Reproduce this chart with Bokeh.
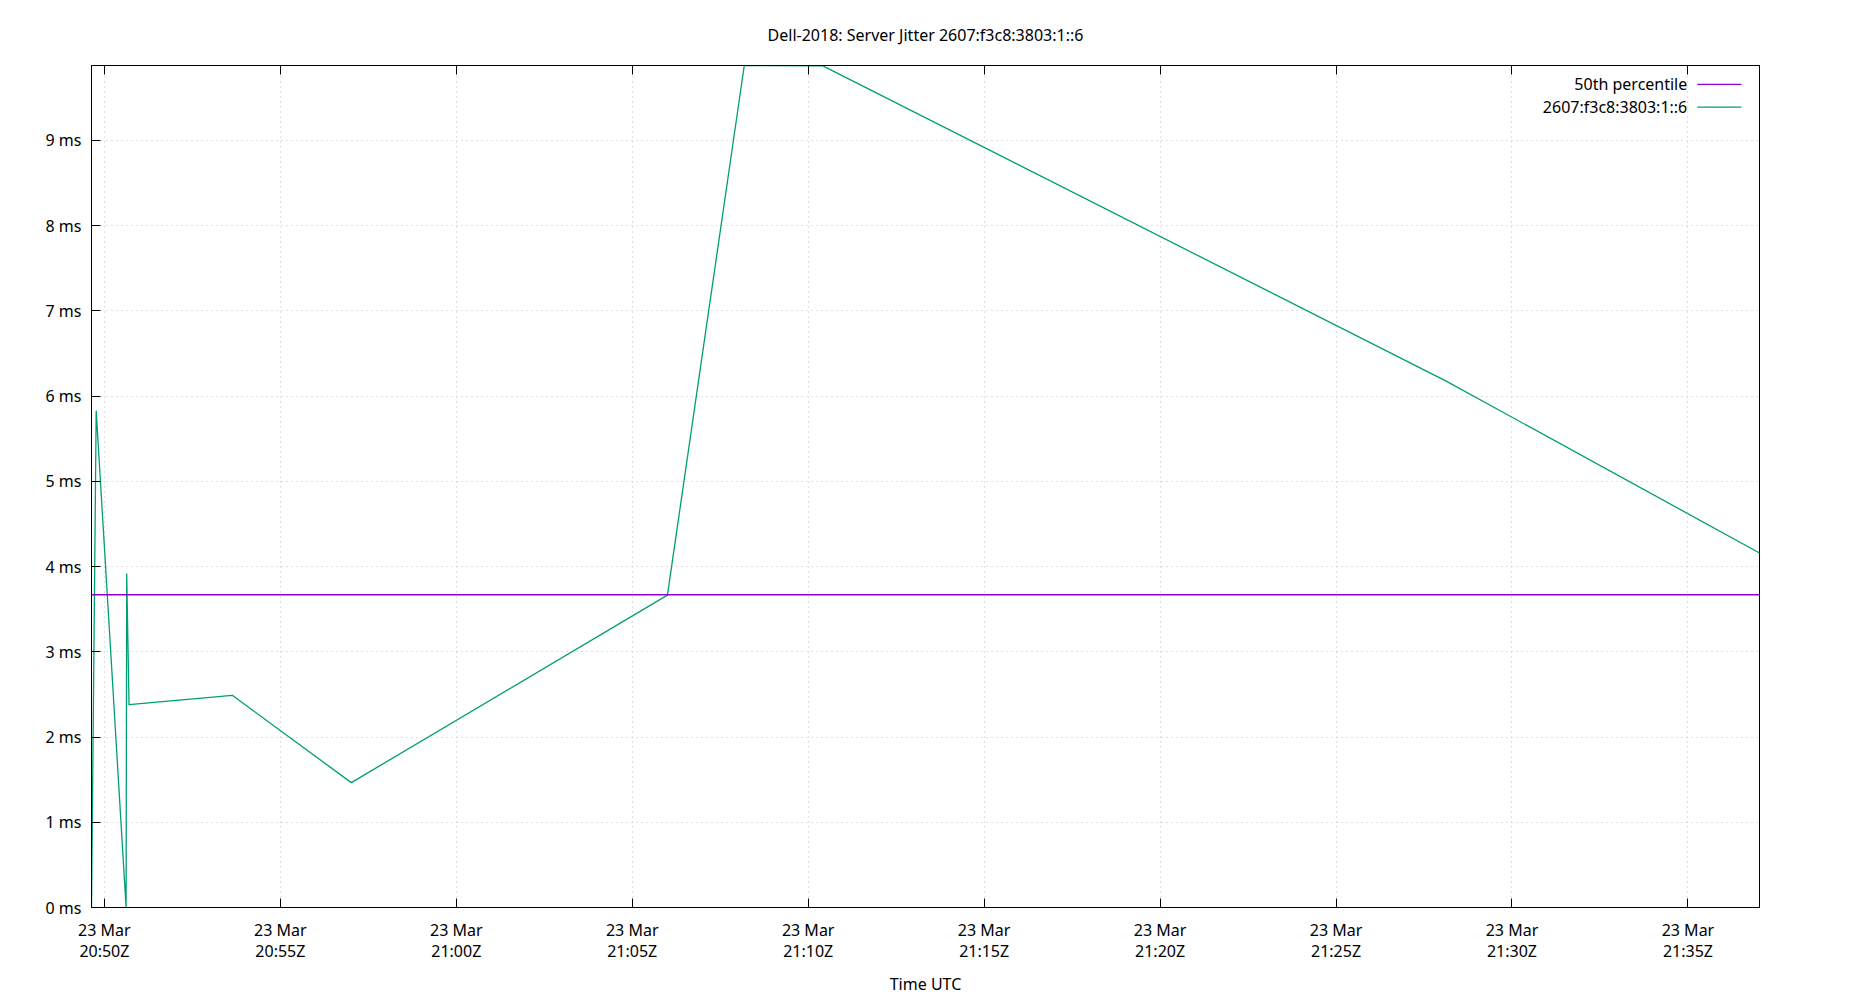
import pandas as pd
from bokeh.plotting import figure
from bokeh.models import (Range1d, DatetimeTickFormatter, SingleIntervalTicker,
                          PrintfTickFormatter, FixedTicker, Span, Label, Arrow,
                          DatetimeAxis, CustomLabelingPolicy)
from bokeh.embed import file_html
from bokeh.resources import INLINE

# ---------------- data ----------------
times = ["2023-03-23 20:49:38", "2023-03-23 20:49:46", "2023-03-23 20:50:37",
         "2023-03-23 20:50:38", "2023-03-23 20:50:42", "2023-03-23 20:53:38",
         "2023-03-23 20:57:01", "2023-03-23 21:06:00", "2023-03-23 21:08:11",
         "2023-03-23 21:10:25", "2023-03-23 21:28:07", "2023-03-23 21:37:02"]
jitter_ms = [0.0, 5.83, 0.0, 3.92, 2.38, 2.49, 1.465, 3.665, 9.88, 9.875, 6.18, 4.16]
median_ms = 3.67
y_ticks = [0, 1, 2, 3, 4, 5, 6, 7, 8, 9]
y_max = 9.88
title_text = "Dell-2018: Server Jitter 2607:f3c8:3803:1::6"
series_name = "2607:f3c8:3803:1::6"
median_name = "50th percentile"
x_label = "Time UTC"

FONT = "Noto Sans"
FS = "16px"
GREEN = "#009E73"
PURPLE = "#9400D3"

t = pd.to_datetime(times)
x0 = t[0].to_pydatetime()
x1 = t[-1].to_pydatetime()

p = figure(width=1834, height=997, x_axis_type="datetime",
           x_range=Range1d(x0, x1), y_range=Range1d(0, y_max),
           output_backend="svg", toolbar_location=None,
           min_border_left=91, min_border_right=75,
           min_border_top=65, min_border_bottom=86)

p.background_fill_color = "white"
p.border_fill_color = "white"
p.outline_line_color = "black"
p.outline_line_width = 1
p.outline_line_alpha = 1

# title
p.title.text = title_text
p.title.align = "center"
p.title.text_font = FONT
p.title.text_font_size = FS
p.title.text_font_style = "normal"
p.title.text_color = "black"
p.title.standoff = 30

# x axis
xt = SingleIntervalTicker(interval=5 * 60 * 1000, num_minor_ticks=0)
fmt = "%d %b\n%H:%MZ"
xfmt = DatetimeTickFormatter(seconds=fmt, minsec=fmt, minutes=fmt, hourmin=fmt,
                             hours=fmt, days=fmt, context=None)
xa = p.xaxis[0]
xa.ticker = xt
xa.formatter = xfmt
xa.major_tick_in = 9
xa.major_tick_out = 0
xa.minor_tick_in = 0
xa.minor_tick_out = 0
xa.major_label_standoff = 11
xa.major_label_text_font = FONT
xa.major_label_text_font_size = FS
xa.major_label_text_line_height = 0.97
xa.major_label_text_color = "black"
xa.axis_line_color = "black"
xa.major_tick_line_color = "black"
xa.axis_label = x_label
xa.axis_label_text_font = FONT
xa.axis_label_text_font_size = FS
xa.axis_label_text_font_style = "normal"
xa.axis_label_text_color = "black"
xa.axis_label_standoff = 8

# mirrored ticks on top (no labels)
top = DatetimeAxis(ticker=xt, formatter=xfmt, major_tick_in=9, major_tick_out=0,
                   minor_tick_in=0, minor_tick_out=0,
                   major_label_policy=CustomLabelingPolicy(code="if (false) { yield 0 }"),
                   major_label_standoff=0, major_label_text_font_size="1px",
                   axis_line_color="black", major_tick_line_color="black")
p.add_layout(top, "above")

# y axis
ya = p.yaxis[0]
ya.ticker = FixedTicker(ticks=y_ticks)
ya.formatter = PrintfTickFormatter(format="%d ms")
ya.major_tick_in = 9
ya.major_tick_out = 0
ya.minor_tick_in = 0
ya.minor_tick_out = 0
ya.major_label_standoff = 10
ya.major_label_text_font = FONT
ya.major_label_text_font_size = FS
ya.major_label_text_color = "black"
ya.axis_line_color = "black"
ya.major_tick_line_color = "black"

# grid
for g in (p.xgrid[0], p.ygrid[0]):
    g.grid_line_color = "#c0c0c0"
    g.grid_line_dash = "1 4"
    g.grid_line_width = 1

p.xgrid[0].ticker = xt

# series
p.line(t, jitter_ms, line_color=GREEN, line_width=1.3)
p.add_layout(Span(location=median_ms, dimension="width", line_color=PURPLE,
                  line_width=1.5))

# manual gnuplot-style legend (text then sample line)
span_ms = (x1 - x0).total_seconds() * 1000.0
x0_ms = pd.Timestamp(x0).value / 1e6


def fx(frac):
    return x0_ms + frac * span_ms


entries = [(median_name, PURPLE, 0.9775), (series_name, GREEN, 0.9505)]
for name, col, fy in entries:
    yy = fy * y_max
    p.add_layout(Label(x=fx(0.9567), y=yy, text=name, text_align="right",
                       text_baseline="middle", text_font=FONT,
                       text_font_size=FS, text_color="black"))
    p.add_layout(Arrow(end=None, x_start=fx(0.9627), y_start=yy,
                       x_end=fx(0.9891), y_end=yy,
                       line_color=col, line_width=1.3))

open("out.html", "w").write(file_html(p, INLINE))
